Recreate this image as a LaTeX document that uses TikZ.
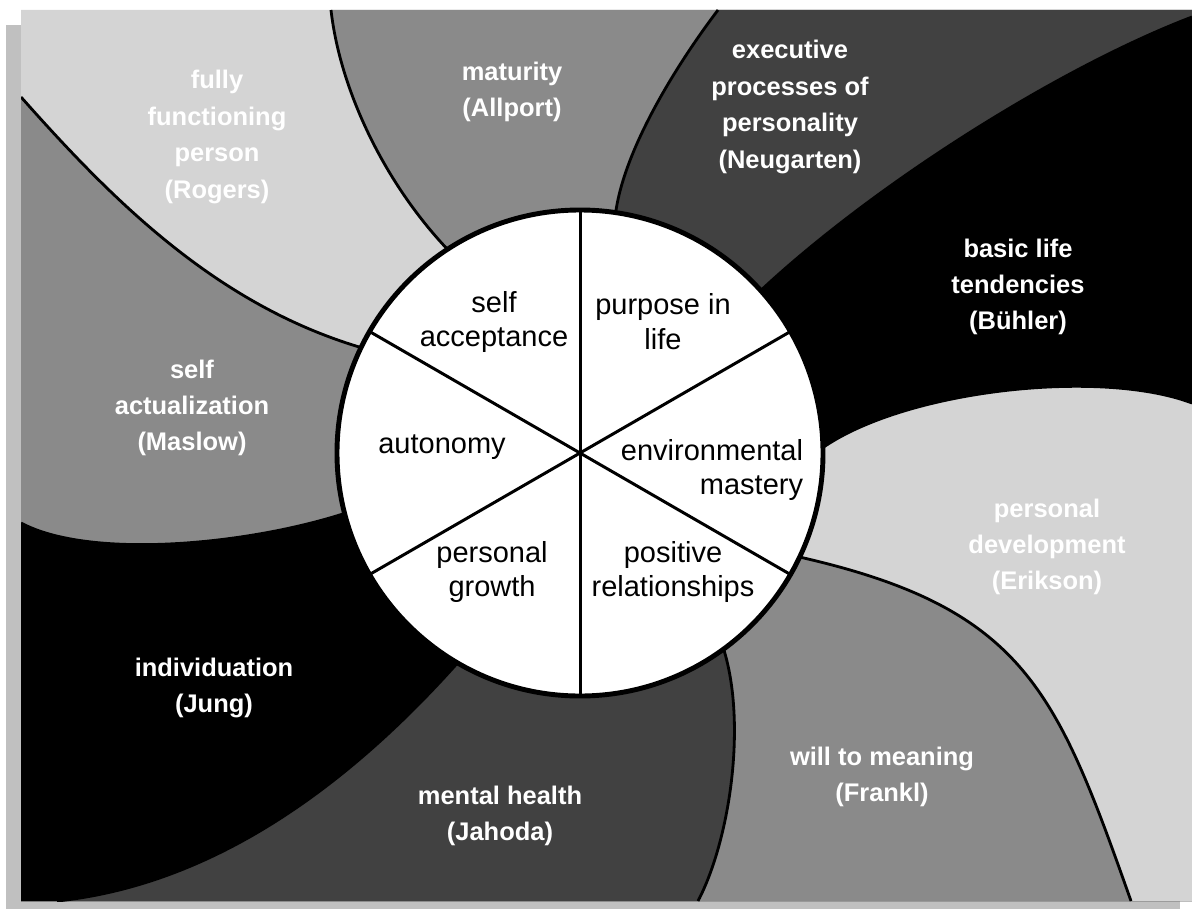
\documentclass[tikz,border=0pt]{standalone}
\usepackage{fontspec}
\setmainfont{Liberation Sans}
\definecolor{lightgr}{HTML}{D4D4D4}
\definecolor{midgr}{HTML}{8A8A8A}
\definecolor{darkgr}{HTML}{414141}
\definecolor{shadowgr}{HTML}{C0C0C0}

\begin{document}
\begin{tikzpicture}[
    x=0.02cm, y=-0.02cm,
    theory/.style={text=white, align=center, font=\fontsize{14.5}{20.7}\selectfont\bfseries},
    facet/.style={align=center, font=\fontsize{16.5}{19.8}\selectfont},
    edge/.style={line width=1.6pt},
    spoke/.style={line width=1.7pt}
  ]
  \useasboundingbox (0,0) rectangle (1192,909);

  % frame and its shadow
  \fill[shadowgr] (6,25) rectangle (1180,909);
  \coordinate (tl) at (21,10);
  \coordinate (tr) at (1192,10);
  \coordinate (br) at (1192,901);
  \coordinate (bl) at (21,901);
  \coordinate (ctr) at (580,453);

  % swirl boundaries: -0 at the circle, -3 at the frame
  \coordinate (k1-0) at (366,349); \coordinate (k1-1) at (219,307); \coordinate (k1-2) at (114,202); \coordinate (k1-3) at (21,97);
  \coordinate (k2-0) at (451,253); \coordinate (k2-1) at (385,185); \coordinate (k2-2) at (340,90);  \coordinate (k2-3) at (331,10);
  \coordinate (k3-0) at (615,218); \coordinate (k3-1) at (622,150); \coordinate (k3-2) at (680,60);  \coordinate (k3-3) at (718,10);
  \coordinate (k4-0) at (757,294); \coordinate (k4-1) at (875,183); \coordinate (k4-2) at (1061,67); \coordinate (k4-3) at (1192,17);
  \coordinate (k5-0) at (818,451); \coordinate (k5-1) at (900,390); \coordinate (k5-2) at (1100,368); \coordinate (k5-3) at (1192,403);
  \coordinate (k6-0) at (795,556); \coordinate (k6-1) at (1024,607); \coordinate (k6-2) at (1056,689); \coordinate (k6-3) at (1131,901);
  \coordinate (k7-0) at (722,644); \coordinate (k7-1) at (748,720); \coordinate (k7-2) at (730,840); \coordinate (k7-3) at (698,901);
  \coordinate (k8-0) at (461,659); \coordinate (k8-1) at (345,790); \coordinate (k8-2) at (210,885); \coordinate (k8-3) at (57,901);
  \coordinate (k9-0) at (349,512); \coordinate (k9-1) at (250,545); \coordinate (k9-2) at (90,560);  \coordinate (k9-3) at (21,523);

  \begin{scope}
    \clip (tl) rectangle (br);
    \fill[midgr] (tl) rectangle (br);
    \fill[lightgr] (ctr) -- (k1-0) .. controls (k1-1) and (k1-2) .. (k1-3) -- (tl) -- (tr) -- (br) -- (bl)
      -- (k9-3) .. controls (k9-2) and (k9-1) .. (k9-0) -- cycle;
    \fill[midgr] (ctr) -- (k2-0) .. controls (k2-1) and (k2-2) .. (k2-3) -- (tr) -- (br) -- (bl)
      -- (k9-3) .. controls (k9-2) and (k9-1) .. (k9-0) -- cycle;
    \fill[darkgr] (ctr) -- (k3-0) .. controls (k3-1) and (k3-2) .. (k3-3) -- (tr) -- (br) -- (bl)
      -- (k9-3) .. controls (k9-2) and (k9-1) .. (k9-0) -- cycle;
    \fill[black] (ctr) -- (k4-0) .. controls (k4-1) and (k4-2) .. (k4-3) -- (br) -- (bl)
      -- (k9-3) .. controls (k9-2) and (k9-1) .. (k9-0) -- cycle;
    \fill[lightgr] (ctr) -- (k5-0) .. controls (k5-1) and (k5-2) .. (k5-3) -- (br) -- (bl)
      -- (k9-3) .. controls (k9-2) and (k9-1) .. (k9-0) -- cycle;
    \fill[midgr] (ctr) -- (k6-0) .. controls (k6-1) and (k6-2) .. (k6-3) -- (bl)
      -- (k9-3) .. controls (k9-2) and (k9-1) .. (k9-0) -- cycle;
    \fill[darkgr] (ctr) -- (k7-0) .. controls (k7-1) and (k7-2) .. (k7-3) -- (bl)
      -- (k9-3) .. controls (k9-2) and (k9-1) .. (k9-0) -- cycle;
    \fill[black] (ctr) -- (k8-0) .. controls (k8-1) and (k8-2) .. (k8-3) -- (bl)
      -- (k9-3) .. controls (k9-2) and (k9-1) .. (k9-0) -- cycle;
    \foreach \bnd in {1,...,9}
      \draw[edge] (k\bnd-0) .. controls (k\bnd-1) and (k\bnd-2) .. (k\bnd-3);
  \end{scope}

  % the wheel
  \fill[white] (ctr) circle (243);
  \foreach \ang in {30,90,...,330}
    \draw[spoke] (ctr) -- ++(\ang:243);
  \draw[line width=2.8pt] (ctr) circle (243);

  % outer theories
  \node[theory] (rogers) at (217,137) {fully\\functioning\\person\\(Rogers)};
  \node[theory] (allport) at (512,92) {maturity\\(Allport)};
  \node[theory] (neugarten) at (790,107) {executive\\processes of\\personality\\(Neugarten)};
  \node[theory] (buhler) at (1018,287) {basic life\\tendencies\\(Bühler)};
  \node[theory] (erikson) at (1047,547) {personal\\development\\(Erikson)};
  \node[theory] (frankl) at (882,777) {will to meaning\\(Frankl)};
  \node[theory] (jahoda) at (500,816) {mental health\\(Jahoda)};
  \node[theory] (jung) at (214,688) {individuation\\(Jung)};
  \node[theory] (maslow) at (192,408) {self\\actualization\\(Maslow)};

  % inner dimensions
  \node[facet] (accept) at (494,322) {self\\acceptance};
  \node[facet] (purpose) at (663,322) {purpose in\\life};
  \node[facet] (autonomy) at (442,447) {autonomy};
  \node[facet, align=right] (mastery) at (712,470) {environmental\\mastery};
  \node[facet] (growth) at (492,572) {personal\\growth};
  \node[facet] (relations) at (673,572) {positive\\relationships};
\end{tikzpicture}
\end{document}
